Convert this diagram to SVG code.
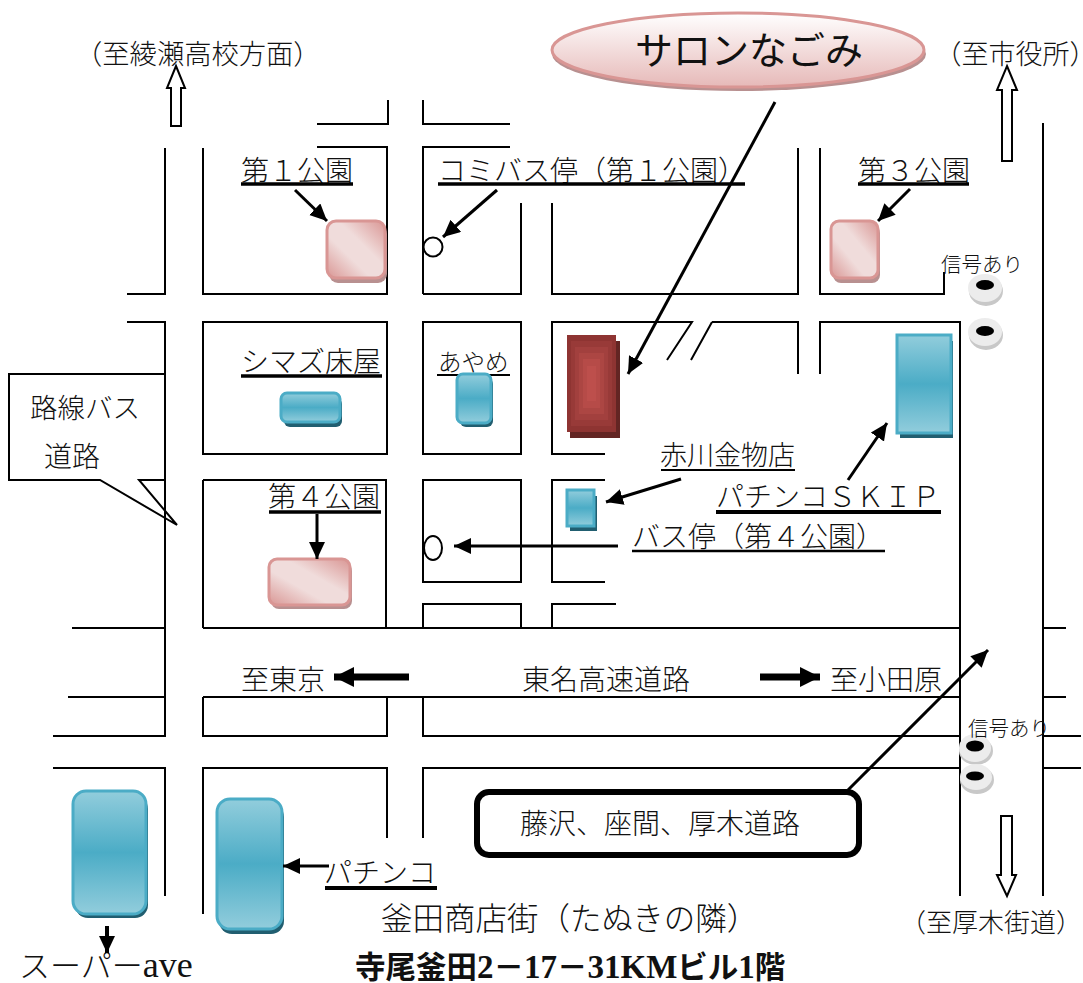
<svg xmlns="http://www.w3.org/2000/svg" width="1083" height="983" viewBox="0 0 1083 983">
<style>
text{font-family:"Liberation Serif","Noto Sans CJK JP",serif;font-size:28px;fill:#111;font-weight:300;text-spacing-trim:space-all}
.road{fill:none;stroke:#000;stroke-width:2}
.conn{fill:none;stroke:#000;stroke-width:3}
.ul{stroke:#000;stroke-width:3.5}
.block{fill:#fff;stroke:#000;stroke-width:2}
.pink{fill:url(#pinkG);stroke:#d99694;stroke-width:3}
.pinkS{fill:#b89090}
.blue{fill:url(#blueG);stroke:#4bacc6;stroke-width:3}
.blueS{fill:#215e70}
.sigS{fill:#c8c8c8}
.sigO{fill:#ececec}
.sigI{fill:#000}
</style>
<defs>
<linearGradient id="pinkG" x1="1" y1="0" x2="0" y2="1"><stop offset="0" stop-color="#d99694"/><stop offset=".4" stop-color="#f0dcdb"/><stop offset=".62" stop-color="#f0dcdb"/><stop offset="1" stop-color="#d99694"/></linearGradient>
<linearGradient id="ovalG" x1="0" y1="0" x2="0" y2="1"><stop offset="0" stop-color="#fff"/><stop offset="1" stop-color="#e6b9b8"/></linearGradient>
<linearGradient id="blueG" x1="0" y1="0" x2="0" y2="1"><stop offset="0" stop-color="#92cddc"/><stop offset=".5" stop-color="#4bacc6"/><stop offset="1" stop-color="#92cddc"/></linearGradient>
<marker id="ah" markerUnits="userSpaceOnUse" markerWidth="20" markerHeight="18" refX="17" refY="8" orient="auto"><path d="M0 0L17 8L0 16Z" fill="#000"/></marker>
<marker id="ahL" markerUnits="userSpaceOnUse" markerWidth="22" markerHeight="20" refX="20" refY="10" orient="auto"><path d="M0 0L20 10L0 20Z" fill="#000"/></marker>
</defs>
<g id="callout"><path class="block" d="M9 374H165V480H139L177 525L100 480H9Z"/><text x="30" y="418" style="font-size:27.5px">路線バス</text><text x="44" y="467">道路</text></g>
<g id="roads" class="road">
<path d="M317 124H388V100M423 100V124H510"/>
<path d="M317 147H387V294H203V148M423 294V147H510M423 294H521V203M165 148V294H127M552 203V294H798V148M820 148V294H944V272"/>
<path d="M127 322H165V736H53M203 322H387V454H203ZM423 322H521V454H423ZM605 322H552V454H605M552 322H692L667 360M712 322H798V374M691 360L712 322M820 374V322H960V896"/>
<path d="M203 480H386V628M203 480V628M423 480H521V582H423ZM605 480H552V582H605M423 628V604H521V628M552 628V604H616"/>
<path d="M72 628H165M68 697H165M203 628H960M203 697H960M203 697V736H387V697M423 697V736H960"/>
<path d="M53 768H165V896M203 914V768H387V838M423 838V768H960"/>
<path d="M1043 123V896M1043 628H1066M1043 697H1066M1043 736H1081M1043 768H1081"/>
</g>
<g id="salon-title"><ellipse cx="739" cy="54" rx="187" ry="37" fill="#b89090"/><ellipse cx="738" cy="50" rx="186" ry="37" fill="url(#ovalG)" stroke="#d99694" stroke-width="3"/><text x="635" y="64" style="font-size:38px;font-weight:400">サロンなごみ</text></g>
<g id="park1"><rect class="pinkS" x="329" y="225" width="58" height="58" rx="9"/><rect class="pink" x="327" y="221" width="58" height="57" rx="9"/><text x="241" y="181">第１公園</text><line class="ul" x1="241" y1="184" x2="353" y2="184"/></g>
<g id="park3"><rect class="pinkS" x="833" y="225" width="47" height="58" rx="8"/><rect class="pink" x="831" y="221" width="47" height="57" rx="8"/><text x="858" y="181">第３公園</text><line class="ul" x1="858" y1="184" x2="969" y2="184"/></g>
<g id="park4"><rect class="pinkS" x="271" y="563" width="81" height="46" rx="8"/><rect class="pink" x="269" y="559" width="81" height="46" rx="8"/><text x="268" y="507">第４公園</text><line class="ul" x1="269" y1="512" x2="381" y2="512"/></g>
<g id="shimazu"><rect class="blueS" x="284" y="398" width="58" height="29" rx="6"/><rect class="blue" x="281" y="393" width="59" height="29" rx="6"/><text x="241" y="372">シマズ床屋</text><line class="ul" x1="241" y1="376" x2="382" y2="376"/></g>
<g id="ayame"><text x="438" y="371" style="font-size:23.5px">あやめ</text><line x1="437" y1="375" x2="510" y2="375" stroke="#000" stroke-width="2"/><rect class="blueS" x="460" y="378" width="33" height="49" rx="6"/><rect class="blue" x="457" y="374" width="34" height="49" rx="6"/></g>
<g id="salon-building"><rect x="570" y="341" width="50" height="97" fill="#632523"/><rect x="567" y="335" width="49" height="97" fill="#8e3432"/><rect x="571" y="341" width="41" height="85" fill="#983a38"/><rect x="575" y="347" width="33" height="73" fill="#a2403e"/><rect x="579" y="353" width="25" height="61" fill="#ac4643"/><rect x="583" y="359" width="17" height="49" fill="#b64b48"/><rect x="587" y="366" width="9" height="35" fill="#bd4f4c"/></g>
<g id="akagawa"><rect class="blueS" x="570" y="496" width="27" height="35"/><rect class="blue" x="567" y="490" width="27" height="36"/><text x="660" y="465" style="font-size:27px">赤川金物店</text><line x1="661" y1="470" x2="795" y2="470" stroke="#000" stroke-width="2"/></g>
<g id="skip"><rect class="blueS" x="900" y="341" width="53" height="97"/><rect class="blue" x="897" y="335" width="54" height="98"/><text x="716" y="507">パチンコＳＫＩＰ</text><line x1="716" y1="512" x2="941" y2="512" stroke="#000" stroke-width="4"/></g>
<g id="ave"><rect class="blueS" x="75" y="796" width="73" height="122" rx="13"/><rect class="blue" x="73" y="791" width="73" height="123" rx="13"/><text x="19" y="977" style="font-size:31px">スーパー<tspan style="font-size:36px">ave</tspan></text></g>
<g id="pachinko"><rect class="blueS" x="219" y="804" width="65" height="130" rx="13"/><rect class="blue" x="217" y="799" width="65" height="130" rx="13"/><text x="324" y="883">パチンコ</text><line x1="325" y1="888" x2="437" y2="888" stroke="#000" stroke-width="4"/></g>
<g id="busstop1"><ellipse cx="433" cy="247" rx="9.5" ry="9.5" fill="#fff" stroke="#000" stroke-width="2"/><text x="438" y="181">コミバス停（第１公園）</text><line class="ul" x1="438" y1="184" x2="745" y2="184"/></g>
<g id="busstop4"><ellipse cx="433" cy="548" rx="9" ry="12" fill="#fff" stroke="#000" stroke-width="2"/><text x="632" y="547">バス停（第４公園）</text><line x1="632" y1="551" x2="885" y2="551" stroke="#000" stroke-width="2.5"/></g>
<g id="signal1"><ellipse class="sigS" cx="986" cy="291" rx="17" ry="15"/><ellipse class="sigO" cx="985" cy="288" rx="17" ry="14"/><ellipse class="sigI" cx="985" cy="285" rx="9" ry="5"/><text x="941" y="272" style="font-size:20.5px">信号あり</text></g>
<g id="signal2"><ellipse class="sigS" cx="986" cy="335" rx="17" ry="15"/><ellipse class="sigO" cx="985" cy="332" rx="17" ry="14"/><ellipse class="sigI" cx="985" cy="331" rx="9" ry="5"/></g>
<g id="signal3"><ellipse class="sigS" cx="976" cy="751" rx="17" ry="14"/><ellipse class="sigO" cx="975" cy="748" rx="16" ry="14"/><ellipse class="sigI" cx="975" cy="746" rx="9" ry="5.5"/><text x="968" y="736" style="font-size:20.5px">信号あり</text></g>
<g id="signal4"><ellipse class="sigS" cx="977" cy="780" rx="17" ry="14"/><ellipse class="sigO" cx="976" cy="777" rx="16" ry="13"/><ellipse class="sigI" cx="975" cy="776" rx="9" ry="4.5"/></g>
<g id="route-box"><rect x="477" y="792" width="382" height="63" rx="12" fill="#fff" stroke="#000" stroke-width="6"/><text x="520" y="834">藤沢、座間、厚木道路</text></g>
<g id="labels">
<text x="75" y="64" style="font-size:27.3px">（至綾瀬高校方面）</text>
<text x="948" y="64" style="font-size:27px;font-feature-settings:'halt'">（至市役所）</text>
<text x="241" y="690">至東京</text>
<text x="522" y="690">東名高速道路</text>
<text x="830" y="690">至小田原</text>
<text x="381" y="930" style="font-size:31.5px">釜田商店街（たぬきの隣）</text>
<text x="900" y="932" style="font-size:26px">（至厚木街道）</text>
<text x="355" y="978" style="font-size:30.5px;font-weight:700">寺尾釜田<tspan style="font-size:33px">2</tspan>－<tspan style="font-size:33px">17</tspan>－<tspan style="font-size:33px">31KM</tspan>ビル<tspan style="font-size:33px">1</tspan>階</text>
</g>
<g id="connectors">
<path class="block" d="M176 66L185 88H181V126H171V88H167Z"/>
<path class="block" d="M1007 66L1017 90H1012V161H1002V90H997Z"/>
<path class="block" d="M1007 896L1016 875H1012V816H1001V875H997Z"/>
<g class="conn">
<line x1="775" y1="102" x2="628" y2="374" marker-end="url(#ah)"/>
<line x1="295" y1="190" x2="327" y2="221" marker-end="url(#ah)"/>
<line x1="497" y1="190" x2="443" y2="237" marker-end="url(#ah)"/>
<line x1="910" y1="189" x2="878" y2="221" marker-end="url(#ah)"/>
<line x1="317" y1="514" x2="317" y2="559" marker-end="url(#ah)"/>
<line x1="681" y1="479" x2="606" y2="502" marker-end="url(#ah)"/>
<line x1="848" y1="480" x2="887" y2="423" marker-end="url(#ah)"/>
<line x1="618" y1="546" x2="454" y2="546" marker-end="url(#ah)"/>
<line x1="409" y1="677" x2="334" y2="677" stroke-width="7" marker-end="url(#ahL)"/>
<line x1="760" y1="677" x2="820" y2="677" stroke-width="7" marker-end="url(#ahL)"/>
<line x1="848" y1="790" x2="988" y2="650" marker-end="url(#ah)"/>
<line x1="329" y1="866" x2="283" y2="866" marker-end="url(#ah)"/>
<line x1="107" y1="926" x2="107" y2="953" stroke-width="4" marker-end="url(#ah)"/>
</g>
</g>
</svg>
